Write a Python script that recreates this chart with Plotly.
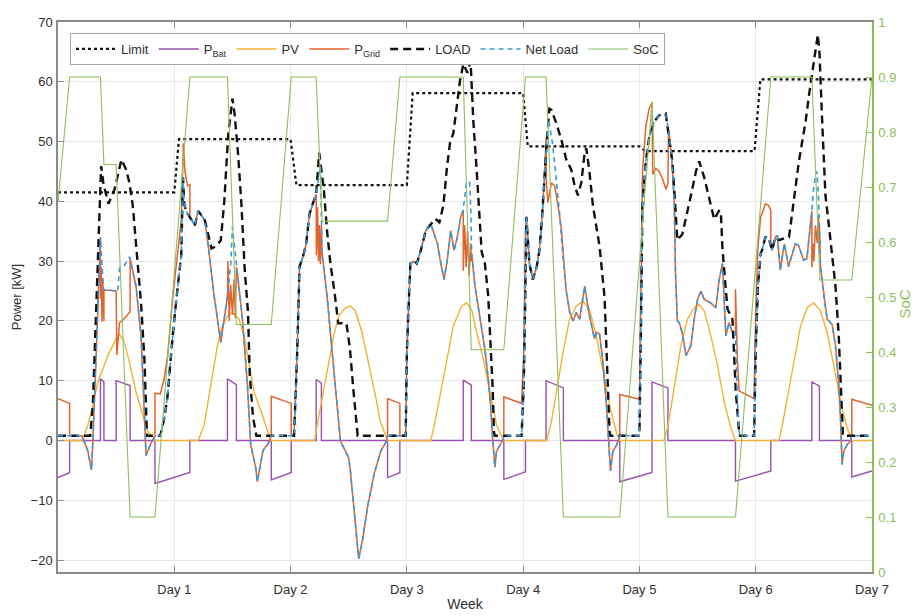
import plotly.graph_objects as go

# ---------------- data (time in days, power in kW, SoC 0..1) ----------------
DAY_TICKS = [1, 2, 3, 4, 5, 6, 7]
DAY_LABELS = ["Day 1", "Day 2", "Day 3", "Day 4", "Day 5", "Day 6", "Day 7"]
POWER_TICKS = [-20, -10, 0, 10, 20, 30, 40, 50, 60, 70]
SOC_TICKS = [0, 0.1, 0.2, 0.3, 0.4, 0.5, 0.6, 0.7, 0.8, 0.9, 1]
SOC_LABELS = ["0", "0.1", "0.2", "0.3", "0.4", "0.5", "0.6", "0.7", "0.8", "0.9", "1"]

limit = [(0, 41.5), (1.0, 41.5), (1.04, 50.4), (2.0, 50.4), (2.05, 42.7), (3.0, 42.7),
         (3.05, 58.1), (4.0, 58.1), (4.04, 49.2), (5.0, 49.2), (5.05, 48.4), (5.99, 48.4),
         (6.04, 60.4), (7.0, 60.4)]

p_bat = [(0, -6.2), (0.1, -5.4), (0.1, 0), (0.365, 0), (0.365, 10.3), (0.395, 9.8), (0.395, 0),
         (0.5, 0), (0.5, 10.0), (0.62, 9.2), (0.62, 0), (0.834, 0), (0.834, -7.2), (1.134, -5.35),
         (1.134, 0), (1.457, 0), (1.457, 10.3), (1.534, 9.35), (1.534, 0), (1.834, 0), (1.834, -6.6),
         (2.006, -5.35), (2.006, 0), (2.22, 0), (2.22, 10.2), (2.265, 9.6), (2.265, 0), (2.834, 0),
         (2.834, -6.2), (2.94, -5.4), (2.94, 0), (3.485, 0), (3.485, 10.1), (3.554, 9.25), (3.554, 0),
         (3.834, 0), (3.834, -6.5), (4.02, -5.25), (4.02, 0), (4.197, 0), (4.197, 10.0), (4.346, 8.8),
         (4.346, 0), (4.831, 0), (4.831, -6.9), (5.108, -5.35), (5.108, 9.8), (5.245, 8.8), (5.245, 0),
         (5.826, 0), (5.826, -6.8), (6.13, -5.1), (6.13, 0), (6.483, 0), (6.483, 9.8), (6.548, 9.1),
         (6.548, 0), (6.826, 0), (6.826, -6.1), (7.0, -5.1)]

pv = [(0, 0), (0.206, 0), (0.214, 0.4), (0.257, 2.6), (0.3, 5.95), (0.343, 9.8), (0.429, 14.2),
      (0.5, 17), (0.529, 17.8), (0.571, 16.4), (0.614, 13.1), (0.671, 8.1), (0.729, 4.3),
      (0.771, 1.5), (0.829, 0.4), (0.834, 0),
      (1.206, 0), (1.214, 0.4), (1.257, 2.6), (1.314, 9.3), (1.371, 15.9), (1.414, 19.2),
      (1.457, 20.8), (1.5, 21.4), (1.557, 20.3), (1.6, 17.5), (1.643, 13.1), (1.686, 8.1),
      (1.757, 4.3), (1.814, 0.8), (1.834, 0),
      (2.206, 0), (2.229, 2.6), (2.271, 7), (2.314, 12), (2.371, 17.5), (2.414, 20.8),
      (2.471, 22.2), (2.514, 22.5), (2.557, 21.7), (2.614, 18.1), (2.671, 13.1), (2.729, 7.6),
      (2.771, 3.2), (2.814, 1), (2.834, 0),
      (3.206, 0), (3.243, 3.2), (3.286, 7.6), (3.343, 13.7), (3.4, 19.2), (3.471, 22.5),
      (3.514, 23), (3.557, 21.9), (3.6, 18.1), (3.657, 13.7), (3.714, 8.1), (3.771, 2.6),
      (3.814, 0.7), (3.834, 0),
      (4.203, 0), (4.243, 3.2), (4.286, 8.1), (4.343, 14.8), (4.4, 20.3), (4.457, 22.5),
      (4.514, 23.3), (4.571, 21.9), (4.629, 17.5), (4.686, 12), (4.743, 5.95), (4.8, 1.5), (4.83, 0),
      (5.21, 0), (5.24, 2), (5.271, 5.4), (5.314, 10.9), (5.357, 15.9), (5.414, 20.3),
      (5.471, 22.2), (5.514, 22.7), (5.557, 21.7), (5.614, 17.5), (5.671, 12.6), (5.729, 6.5),
      (5.786, 2.1), (5.826, 0),
      (6.2, 0), (6.229, 2.6), (6.271, 7), (6.329, 13.7), (6.386, 19.2), (6.443, 22.2),
      (6.5, 23), (6.557, 21.7), (6.614, 18.1), (6.671, 12.6), (6.729, 6.5), (6.786, 2.1),
      (6.826, 0), (7.0, 0)]

p_grid = [(0, 7.0), (0.1, 6.2), (0.1, 0.8), (0.206, 0.8), (0.214, 0.4), (0.257, -1.8), (0.288, -4.9),
          (0.3, 0), (0.329, 14.8), (0.357, 29.6), (0.365, 34), (0.365, 23.7), (0.372, 29), (0.378, 19.8),
          (0.385, 27), (0.395, 20), (0.395, 25.2), (0.5, 25), (0.5, 15), (0.506, 14.3), (0.529, 19.7),
          (0.571, 20.4), (0.614, 21.4), (0.62, 21.5), (0.62, 30.5), (0.671, 25.8), (0.714, 17.5),
          (0.737, 8.1), (0.757, -2.5), (0.8, -0.4), (0.834, 0.7), (0.834, 7.9), (0.88, 7.8),
          (0.914, 10.4), (0.943, 14.2), (0.986, 23.8), (1.03, 31.8), (1.06, 36.8), (1.078, 49.7),
          (1.092, 45), (1.114, 42.6), (1.134, 42.8), (1.134, 37.4), (1.177, 36), (1.206, 38.4),
          (1.234, 37.6), (1.263, 36.8), (1.3, 31.3), (1.343, 24.1), (1.4, 16.4), (1.457, 24.1),
          (1.462, 30), (1.472, 20), (1.485, 26), (1.5, 21), (1.515, 27), (1.525, 20.5), (1.534, 29),
          (1.543, 28), (1.586, 20.3), (1.629, 9.3), (1.657, -0.7), (1.7, -4.5), (1.714, -6.9),
          (1.763, -1.65), (1.806, -0.6), (1.834, 0.8), (1.834, 7.4), (2.006, 6.2), (2.006, 0.8),
          (2.03, 0.8), (2.057, 14.8), (2.077, 29.1), (2.106, 30.7), (2.134, 32.9), (2.163, 37.9),
          (2.191, 39.6), (2.22, 41.2), (2.222, 31), (2.232, 39), (2.24, 30), (2.248, 36), (2.256, 29.5),
          (2.265, 36), (2.271, 31.3), (2.314, 24.1), (2.357, 14.8), (2.4, 6.5), (2.429, -0.1),
          (2.457, -1.2), (2.5, -2.9), (2.514, -5), (2.549, -12.1), (2.586, -19.8), (2.62, -16.5),
          (2.663, -11), (2.72, -5.5), (2.777, -1.7), (2.82, -0.3), (2.834, 0.8), (2.834, 7.0),
          (2.94, 6.2), (2.94, 0.8), (2.99, 0.8), (3.0, 14.8), (3.03, 29.6), (3.063, 30), (3.086, 29.6),
          (3.12, 31.8), (3.163, 35.1), (3.206, 36.2), (3.263, 32.9), (3.291, 29.6), (3.32, 26.9),
          (3.35, 30.5), (3.377, 35.1), (3.406, 31.8), (3.434, 34), (3.463, 37.4), (3.485, 38.5),
          (3.485, 28.4), (3.497, 36), (3.51, 29), (3.522, 35), (3.535, 27.5), (3.548, 33), (3.554, 30),
          (3.557, 31.3), (3.586, 25.8), (3.629, 20.3), (3.671, 15.3), (3.7, 10.3), (3.72, 5.95),
          (3.737, 0.4), (3.757, -4.5), (3.771, -1.8), (3.8, -0.7), (3.829, 0.2), (3.834, 0.8),
          (3.834, 7.3), (3.986, 6.2), (4.005, 14.5), (4.015, 25.4), (4.02, 35), (4.028, 37.4),
          (4.054, 29.6), (4.083, 26.9), (4.117, 29.1), (4.14, 31.8), (4.163, 37.4), (4.183, 44),
          (4.197, 50.5), (4.2, 43), (4.213, 39.8), (4.243, 43.1), (4.271, 42.6), (4.3, 39.3),
          (4.329, 35.4), (4.346, 31), (4.357, 28), (4.369, 25.2), (4.4, 21.5), (4.43, 20),
          (4.457, 21.4), (4.486, 20.3), (4.529, 25.8), (4.571, 20.8), (4.614, 17), (4.629, 18.1),
          (4.657, 17.8), (4.686, 13.1), (4.714, 6.5), (4.737, -1.8), (4.751, -5.1), (4.771, -1.8),
          (4.8, -0.9), (4.823, 0.2), (4.831, 0.8), (4.831, 7.7), (5.0, 6.9), (5.014, 26.5),
          (5.026, 45), (5.055, 52.5), (5.083, 55.5), (5.108, 56.5), (5.115, 44.5), (5.14, 45.5),
          (5.17, 45), (5.2, 43.7), (5.229, 42), (5.245, 43), (5.251, 52), (5.271, 48.6),
          (5.286, 44.8), (5.3, 39.3), (5.31, 28), (5.326, 20), (5.343, 19.7), (5.371, 17.8),
          (5.4, 14.2), (5.443, 15.9), (5.471, 20.3), (5.5, 23.6), (5.529, 25), (5.557, 23.6),
          (5.586, 23.3), (5.614, 23), (5.657, 22.2), (5.686, 26.9), (5.714, 29.6), (5.743, 17.5),
          (5.771, 19.7), (5.8, 18.1), (5.826, 18), (5.826, 25.3), (5.843, 13.3), (5.857, 8.3),
          (5.986, 7.0), (6.0, 21.4), (6.019, 32.3), (6.043, 37.5), (6.054, 37.9), (6.083, 39.6),
          (6.111, 39.3), (6.13, 38.5), (6.13, 33), (6.14, 31.8), (6.169, 34), (6.186, 34.3),
          (6.211, 28.5), (6.246, 32.9), (6.283, 29.1), (6.34, 32.9), (6.369, 32.6), (6.411, 30.2),
          (6.44, 30.4), (6.471, 36), (6.483, 38.4), (6.483, 29), (6.492, 33), (6.5, 30), (6.514, 36),
          (6.529, 33), (6.54, 37.5), (6.548, 31.5), (6.548, 36), (6.557, 29.1), (6.586, 24.1),
          (6.614, 20.3), (6.657, 19.4), (6.686, 15.9), (6.714, 9.3), (6.729, 3.7), (6.743, -4),
          (6.757, -1.8), (6.786, -0.7), (6.814, -0.1), (6.826, 0.8), (6.826, 6.9), (7.0, 5.9)]

load = [(0, 0.8), (0.277, 0.8), (0.3, 6), (0.33, 23), (0.357, 40), (0.371, 45.9), (0.391, 42.9),
        (0.434, 39.6), (0.486, 42), (0.514, 44.2), (0.546, 47), (0.586, 45.3), (0.614, 43.1),
        (0.643, 39.3), (0.671, 32.7), (0.686, 30.2), (0.714, 23), (0.743, 13.7), (0.757, 4.8),
        (0.765, 0.8), (0.88, 0.8), (0.914, 3.7), (0.943, 7.6), (0.986, 17.5), (1.03, 25.8), (1.06, 31),
        (1.075, 44), (1.086, 39.6), (1.1, 38.4), (1.134, 37.4), (1.177, 36), (1.206, 38.4),
        (1.234, 37.6), (1.263, 36.8), (1.32, 32.1), (1.36, 32.5), (1.4, 33.5), (1.43, 40),
        (1.463, 51), (1.5, 57.2), (1.52, 54.4), (1.549, 47.8), (1.577, 39.6), (1.606, 28.5),
        (1.634, 21.4), (1.649, 11), (1.677, 3.9), (1.706, 0.8),
        (2.03, 0.8), (2.057, 14.8), (2.077, 29.1), (2.106, 30.7), (2.134, 32.9), (2.163, 37.9),
        (2.191, 39.6), (2.22, 41.2), (2.246, 48.1), (2.286, 42), (2.314, 35), (2.343, 29.5),
        (2.38, 24.5), (2.41, 19.6), (2.48, 19.6), (2.51, 15.5), (2.54, 8.5), (2.57, 1.5), (2.577, 0.8),
        (2.99, 0.8), (3.0, 14.8), (3.03, 29.6), (3.063, 30), (3.086, 29.6), (3.12, 31.8),
        (3.163, 35.1), (3.206, 36.2), (3.243, 37.1), (3.28, 36.5), (3.314, 39.3), (3.343, 45.3),
        (3.371, 49.8), (3.4, 51.4), (3.429, 56.4), (3.457, 60.2), (3.486, 63), (3.52, 61.5),
        (3.548, 63.5), (3.571, 53.6), (3.6, 45.3), (3.629, 37.1), (3.643, 31.6), (3.671, 29.6),
        (3.7, 24.1), (3.72, 15.9), (3.737, 9.3), (3.749, 1.5), (3.755, 0.8),
        (3.986, 0.8), (4.005, 9), (4.015, 20), (4.022, 31), (4.028, 37.4), (4.054, 29.6),
        (4.083, 26.9), (4.117, 29.1), (4.14, 31.8), (4.163, 37.4), (4.183, 44), (4.203, 50),
        (4.226, 55.5), (4.243, 55.3), (4.286, 53), (4.329, 50.3), (4.371, 47), (4.414, 45.3),
        (4.443, 42.6), (4.471, 41), (4.5, 43.1), (4.529, 48.1), (4.543, 48.9), (4.571, 44.8),
        (4.6, 39.3), (4.629, 36), (4.657, 32.5), (4.7, 24), (4.714, 15.9), (4.729, 9.3),
        (4.743, 1.5), (4.75, 0.8),
        (5.0, 0.8), (5.014, 20), (5.026, 39.5), (5.055, 46.7), (5.083, 50.6), (5.126, 53.3),
        (5.169, 54.4), (5.226, 54.7), (5.254, 50.6), (5.283, 46.7), (5.311, 38.4), (5.326, 33.5),
        (5.369, 34.5), (5.397, 36.8), (5.443, 41), (5.486, 45), (5.514, 46.7), (5.557, 44),
        (5.6, 40.5), (5.643, 37), (5.683, 38.4), (5.7, 38.4), (5.714, 32), (5.757, 22), (5.8, 20.3),
        (5.814, 14.8), (5.829, 8.1), (5.857, 1.5), (5.865, 0.8),
        (5.986, 0.8), (6.0, 14.8), (6.019, 25.8), (6.043, 31.3), (6.054, 31.8), (6.083, 34),
        (6.111, 34), (6.14, 31.8), (6.169, 34), (6.2, 33.5), (6.243, 33.8), (6.286, 34), (6.3, 36),
        (6.34, 42), (6.37, 46.5), (6.4, 50), (6.43, 53.5), (6.46, 58), (6.49, 62), (6.515, 65.7),
        (6.534, 67.9), (6.549, 64.6), (6.557, 59.1), (6.571, 53.6), (6.586, 47), (6.6, 40.9),
        (6.629, 36), (6.657, 31), (6.686, 25.8), (6.714, 17.5), (6.729, 10.3), (6.743, 1.5),
        (6.75, 0.8), (7.0, 0.8)]

net_load = [(0, 0.8), (0.206, 0.8), (0.214, 0.4), (0.257, -1.8), (0.288, -4.9), (0.3, 0), (0.329, 14.8),
            (0.357, 29.6), (0.365, 34), (0.391, 25.2), (0.4, 25.2), (0.514, 25), (0.529, 28.8),
            (0.571, 29.3), (0.614, 30.7), (0.671, 25.8), (0.714, 17.5), (0.737, 8.1), (0.757, -2.5),
            (0.8, -0.4), (0.83, 0.5), (0.84, 0.8), (0.88, 0.8), (0.914, 3.7), (0.943, 7.6),
            (0.986, 17.5), (1.03, 25.8), (1.06, 31), (1.075, 44), (1.086, 39.6), (1.1, 38.4),
            (1.134, 37.4), (1.177, 36), (1.206, 38.4), (1.234, 37.6), (1.263, 36.8), (1.3, 31.3),
            (1.343, 24.1), (1.4, 16.4), (1.457, 24.1), (1.486, 29.6), (1.5, 35.7), (1.543, 28),
            (1.586, 20.3), (1.629, 9.3), (1.657, -0.7), (1.7, -4.5), (1.714, -6.9), (1.763, -1.65),
            (1.806, -0.6), (1.834, 0.8),
            (2.03, 0.8), (2.057, 14.8), (2.077, 29.1), (2.106, 30.7), (2.134, 32.9), (2.163, 37.9),
            (2.191, 39.6), (2.22, 41.2), (2.257, 45.9), (2.271, 31.3), (2.314, 24.1), (2.357, 14.8),
            (2.4, 6.5), (2.429, -0.1), (2.457, -1.2), (2.5, -2.9), (2.514, -5), (2.549, -12.1),
            (2.586, -19.8), (2.62, -16.5), (2.663, -11), (2.72, -5.5), (2.777, -1.7), (2.82, -0.3),
            (2.834, 0.8),
            (2.99, 0.8), (3.0, 14.8), (3.03, 29.6), (3.063, 30), (3.086, 29.6), (3.12, 31.8),
            (3.163, 35.1), (3.206, 36.2), (3.263, 32.9), (3.291, 29.6), (3.32, 26.9), (3.35, 30.5),
            (3.377, 35.1), (3.406, 31.8), (3.434, 34), (3.463, 37.4), (3.483, 38.4), (3.511, 42.9),
            (3.54, 43.4), (3.55, 38.4), (3.557, 31.3), (3.586, 25.8), (3.629, 20.3), (3.671, 15.3),
            (3.7, 10.3), (3.72, 5.95), (3.737, 0.4), (3.757, -4.5), (3.771, -1.8), (3.8, -0.7),
            (3.829, 0.2), (3.834, 0.8),
            (3.986, 0.8), (4.005, 9), (4.015, 20), (4.022, 31), (4.028, 37.4), (4.054, 29.6),
            (4.083, 26.9), (4.117, 29.1), (4.14, 31.8), (4.163, 37.4), (4.183, 44), (4.203, 50),
            (4.22, 53.6), (4.254, 49.5), (4.283, 44), (4.311, 38.4), (4.34, 31.3), (4.369, 25.2),
            (4.4, 21.5), (4.43, 20), (4.457, 21.4), (4.486, 20.3), (4.529, 25.8), (4.571, 20.8),
            (4.614, 17), (4.629, 18.1), (4.657, 17.8), (4.686, 13.1), (4.714, 6.5), (4.737, -1.8),
            (4.751, -5.1), (4.771, -1.8), (4.8, -0.9), (4.823, 0.2), (4.831, 0.8),
            (5.0, 0.8), (5.014, 20), (5.026, 39.5), (5.055, 46.7), (5.083, 50.6), (5.126, 53.3),
            (5.169, 54.4), (5.226, 54.4), (5.251, 52), (5.271, 48.6), (5.286, 44.8), (5.3, 39.3),
            (5.31, 28), (5.326, 20), (5.343, 19.7), (5.371, 17.8), (5.4, 14.2), (5.443, 15.9),
            (5.471, 20.3), (5.5, 23.6), (5.529, 25), (5.557, 23.6), (5.586, 23.3), (5.614, 23),
            (5.657, 22.2), (5.686, 26.9), (5.714, 29.6), (5.743, 17.5), (5.771, 19.7), (5.8, 18.1),
            (5.826, 18), (5.832, 12), (5.843, 6.5), (5.857, 1.5), (5.865, 0.8),
            (5.986, 0.8), (6.0, 14.8), (6.019, 25.8), (6.043, 31.3), (6.054, 31.8), (6.083, 34),
            (6.111, 34), (6.14, 31.8), (6.169, 34), (6.186, 34.3), (6.211, 28.5), (6.246, 32.9),
            (6.283, 29.1), (6.34, 32.9), (6.369, 32.6), (6.411, 30.2), (6.44, 30.4), (6.471, 36),
            (6.483, 38.4), (6.5, 42.8), (6.526, 45), (6.54, 40.7), (6.557, 29.1), (6.586, 24.1),
            (6.614, 20.3), (6.657, 19.4), (6.686, 15.9), (6.714, 9.3), (6.729, 3.7), (6.743, -4),
            (6.757, -1.8), (6.786, -0.7), (6.814, -0.1), (6.826, 0.8), (7.0, 0.8)]

soc = [(0, 0.673), (0.1, 0.9), (0.365, 0.9), (0.395, 0.741), (0.5, 0.741), (0.62, 0.1), (0.834, 0.1),
       (1.134, 0.9), (1.457, 0.9), (1.534, 0.45), (1.834, 0.45), (2.006, 0.9), (2.22, 0.9),
       (2.272, 0.638), (2.834, 0.638), (2.94, 0.9), (3.485, 0.9), (3.554, 0.404), (3.834, 0.404),
       (4.02, 0.9), (4.197, 0.9), (4.346, 0.1), (4.831, 0.1), (5.108, 0.856), (5.245, 0.1),
       (5.826, 0.1), (6.13, 0.9), (6.483, 0.9), (6.552, 0.531), (6.826, 0.531), (7.0, 0.9)]

# ---------------- styling ----------------
GREEN = "#8cc05a"
AXIS_GRAY = "#8a8a8a"
TEXT = "#303030"


def xs(pairs):
    return [p[0] for p in pairs]


def ys(pairs):
    return [p[1] for p in pairs]


fig = go.Figure()
fig.add_trace(go.Scatter(x=xs(limit), y=ys(limit), name="Limit", mode="lines",
                         line=dict(color="#111111", width=2.2, dash="dot")))
fig.add_trace(go.Scatter(x=xs(p_bat), y=ys(p_bat), name="P<sub>Bat</sub>", mode="lines",
                         line=dict(color="#9a4fb3", width=1.4)))
fig.add_trace(go.Scatter(x=xs(pv), y=ys(pv), name="PV", mode="lines",
                         line=dict(color="#f2b233", width=1.4)))
fig.add_trace(go.Scatter(x=xs(p_grid), y=ys(p_grid), name="P<sub>Grid</sub>", mode="lines",
                         line=dict(color="#e5622d", width=1.5)))
fig.add_trace(go.Scatter(x=xs(load), y=ys(load), name="LOAD", mode="lines",
                         line=dict(color="#111111", width=2.4, dash="8px,5px")))
fig.add_trace(go.Scatter(x=xs(net_load), y=ys(net_load), name="Net Load", mode="lines",
                         line=dict(color="#3a98da", width=1.6, dash="5px,4px")))
fig.add_trace(go.Scatter(x=xs(soc), y=ys(soc), name="SoC", mode="lines", yaxis="y2",
                         line=dict(color=GREEN, width=1.1)))

# The page body adds an 8px offset, so margins are set to land the plot area
# at the reference position inside the 919x616 window.
fig.update_layout(
    width=919, height=616,
    margin=dict(l=48, r=55, t=7, b=52),
    paper_bgcolor="white", plot_bgcolor="white",
    font=dict(family="Liberation Sans, Arial, sans-serif", size=13, color=TEXT),
    xaxis=dict(range=[0, 7], tickvals=DAY_TICKS, ticktext=DAY_LABELS,
               showgrid=True, gridcolor="#e8e8e8", gridwidth=1, zeroline=False,
               showline=True, linecolor=AXIS_GRAY, linewidth=1.5, mirror="ticks",
               ticks="inside", ticklen=6, tickcolor=AXIS_GRAY, ticklabelstandoff=5,
               title=dict(text="Week", standoff=3, font=dict(size=14))),
    yaxis=dict(range=[-22, 70], tickvals=POWER_TICKS,
               showgrid=True, gridcolor="#e8e8e8", gridwidth=1, zeroline=False,
               showline=True, linecolor=AXIS_GRAY, linewidth=1.5,
               ticks="inside", ticklen=6, tickcolor=AXIS_GRAY, ticklabelstandoff=1,
               title=dict(text="Power [kW]", standoff=6, font=dict(size=13))),
    yaxis2=dict(range=[0, 1], overlaying="y", side="right", tickvals=SOC_TICKS, ticktext=SOC_LABELS,
                showgrid=False, zeroline=False, showline=True, linecolor=GREEN, linewidth=1.5,
                ticks="inside", ticklen=6, tickcolor=GREEN, ticklabelstandoff=2,
                tickfont=dict(color=GREEN, size=13)),
    legend=dict(orientation="h", x=0.0147, y=0.98, xanchor="left", yanchor="top",
                bordercolor="#a8a8a8", borderwidth=1, bgcolor="white", itemwidth=40,
                font=dict(size=13, color=TEXT), tracegroupgap=0),
    annotations=[dict(text="SoC", xref="paper", yref="paper", x=1.0404, y=0.488,
                      textangle=-90, showarrow=False, xanchor="center", yanchor="middle",
                      font=dict(color=GREEN, size=15))],
)

fig.write_html("out.html")
